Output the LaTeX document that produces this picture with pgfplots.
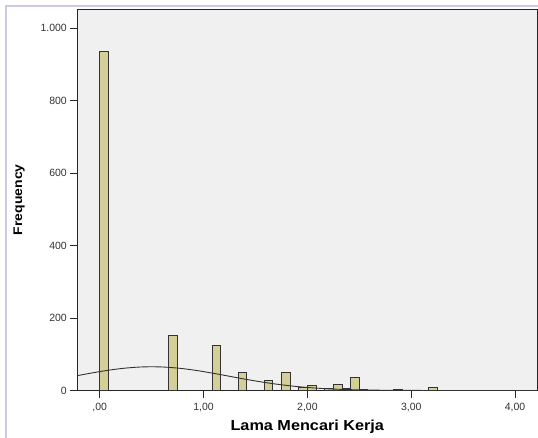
\documentclass[border=0pt]{standalone}
\usepackage{pgfplots}
\pgfplotsset{compat=1.18}
\usepackage{fontspec}
\setmainfont{Liberation Sans}
\definecolor{barfill}{RGB}{212,207,152}
\definecolor{bgc}{RGB}{240,240,240}
\definecolor{lav}{RGB}{208,200,228}
\begin{document}
\begin{tikzpicture}
\begin{axis}[
  scale only axis,
  width=460bp, height=381.5bp,
  xmin=-0.216, xmax=4.214,
  ymin=0, ymax=1052.4,
  axis background/.style={fill=bgc},
  axis line style={black!85, line width=0.8bp},
  tick align=outside,
  xtick pos=bottom, ytick pos=left,
  major tick length=7bp,
  tick style={black!85, line width=0.8bp},
  xtick={0,1,2,3,4},
  xticklabels={{,00},{1,00},{2,00},{3,00},{4,00}},
  ytick={0,200,400,600,800,1000},
  yticklabels={0,200,400,600,800,{1.000}},
  xticklabel style={font=\fontsize{10.5bp}{12bp}\selectfont, text=black!80, yshift=-2bp},
  yticklabel style={font=\fontsize{10.5bp}{12bp}\selectfont, text=black!80},
  xlabel={\scalebox{1.12}[1]{\bfseries Lama Mencari Kerja}},
  ylabel={\scalebox{1.12}[1]{\bfseries Frequency}},
  every axis x label/.style={at={(axis description cs:0.5,0)}, anchor=center, yshift=-36bp, font=\fontsize{14.5bp}{16bp}\selectfont},
  every axis y label/.style={at={(axis description cs:0,0.5)}, anchor=center, rotate=90, yshift=58.3bp, font=\fontsize{12.5bp}{14bp}\selectfont},
  clip=true,
]
\addplot[ybar, bar width=0.0833, bar shift=0pt, fill=barfill, draw=black!80, line width=1bp] coordinates {
  (0.0417,935) (0.7083,151) (1.125,124) (1.375,50) (1.625,28) (1.7917,50)
  (1.9583,9) (2.0417,14) (2.2083,5) (2.2917,16) (2.375,5) (2.4583,36)
  (2.5417,2) (2.875,2) (3.2083,7)
};
\addplot[smooth, black!80, line width=0.9bp, no markers] coordinates {
  (-0.216,41.0) (-0.1,47.1) (0,52.1) (0.1,56.6) (0.2,60.3) (0.3,63.1) (0.4,64.9)
  (0.5,65.5) (0.6,64.9) (0.7,63.1) (0.8,60.3) (0.9,56.6) (1.0,52.1) (1.1,47.1)
  (1.2,41.9) (1.3,36.5) (1.4,31.2) (1.5,26.3) (1.6,21.7) (1.7,17.6) (1.8,14.0)
  (1.9,10.9) (2.0,8.4) (2.1,6.3) (2.2,4.7) (2.3,3.4) (2.4,2.4) (2.6,1.2)
  (2.8,0.5) (3.0,0.2) (3.2,0.1) (3.5,0) (4.214,0)
};
\end{axis}
\pgfresetboundingbox
\useasboundingbox (-77.3bp,-47.5bp) rectangle (460.7bp,390.5bp);
\draw[lav, line width=1.5bp] (-71.3bp,-47.5bp) -- (-71.3bp,384.5bp) -- (460.7bp,384.5bp);
\end{tikzpicture}
\end{document}
